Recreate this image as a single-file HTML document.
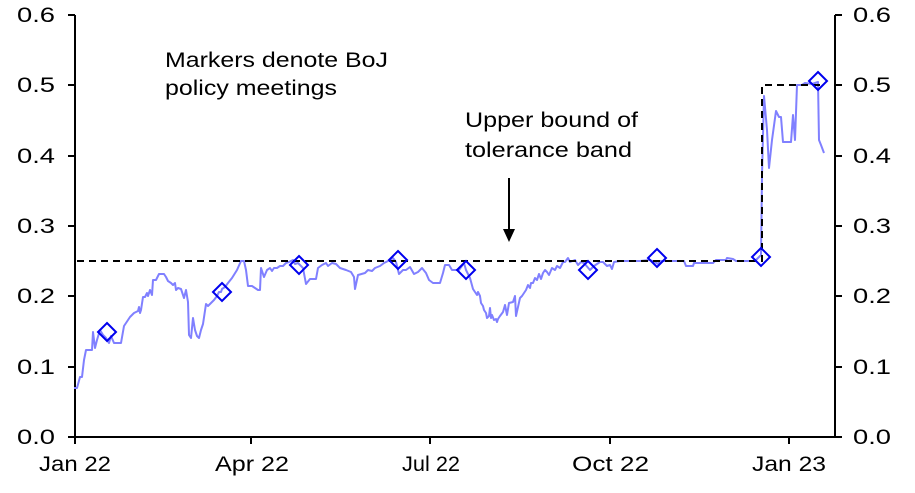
<!DOCTYPE html>
<html><head><meta charset="utf-8"><style>body{margin:0;background:#fff}svg{display:block}text{font-family:"Liberation Sans",Arial,sans-serif;font-size:21px;fill:#000}</style></head><body>
<svg width="915" height="493" viewBox="0 0 915 493">
<g stroke="#000" stroke-width="2">
<line x1="75" y1="15" x2="75" y2="438"/>
<line x1="835" y1="15" x2="835" y2="438"/>
<line x1="74" y1="437" x2="836" y2="437"/>
<line x1="68" y1="437" x2="75" y2="437"/><line x1="68" y1="367" x2="75" y2="367"/><line x1="68" y1="296" x2="75" y2="296"/><line x1="68" y1="226" x2="75" y2="226"/><line x1="68" y1="156" x2="75" y2="156"/><line x1="68" y1="85" x2="75" y2="85"/><line x1="68" y1="15" x2="75" y2="15"/>
<line x1="835" y1="437" x2="842" y2="437"/><line x1="835" y1="367" x2="842" y2="367"/><line x1="835" y1="296" x2="842" y2="296"/><line x1="835" y1="226" x2="842" y2="226"/><line x1="835" y1="156" x2="842" y2="156"/><line x1="835" y1="85" x2="842" y2="85"/><line x1="835" y1="15" x2="842" y2="15"/>
<line x1="75" y1="437" x2="75" y2="444"/><line x1="251" y1="437" x2="251" y2="444"/><line x1="430" y1="437" x2="430" y2="444"/><line x1="610" y1="437" x2="610" y2="444"/><line x1="789" y1="437" x2="789" y2="444"/>
</g>
<g>
<text x="17" y="444" textLength="38" lengthAdjust="spacingAndGlyphs">0.0</text><text x="17" y="374" textLength="38" lengthAdjust="spacingAndGlyphs">0.1</text><text x="17" y="303" textLength="38" lengthAdjust="spacingAndGlyphs">0.2</text><text x="17" y="233" textLength="38" lengthAdjust="spacingAndGlyphs">0.3</text><text x="17" y="163" textLength="38" lengthAdjust="spacingAndGlyphs">0.4</text><text x="17" y="92" textLength="38" lengthAdjust="spacingAndGlyphs">0.5</text><text x="17" y="22" textLength="38" lengthAdjust="spacingAndGlyphs">0.6</text>
<text x="853" y="444" textLength="38" lengthAdjust="spacingAndGlyphs">0.0</text><text x="853" y="374" textLength="38" lengthAdjust="spacingAndGlyphs">0.1</text><text x="853" y="303" textLength="38" lengthAdjust="spacingAndGlyphs">0.2</text><text x="853" y="233" textLength="38" lengthAdjust="spacingAndGlyphs">0.3</text><text x="853" y="163" textLength="38" lengthAdjust="spacingAndGlyphs">0.4</text><text x="853" y="92" textLength="38" lengthAdjust="spacingAndGlyphs">0.5</text><text x="853" y="22" textLength="38" lengthAdjust="spacingAndGlyphs">0.6</text>
<text x="39" y="471" textLength="72" lengthAdjust="spacingAndGlyphs">Jan 22</text><text x="215" y="471" textLength="74" lengthAdjust="spacingAndGlyphs">Apr 22</text><text x="402" y="471" textLength="58" lengthAdjust="spacingAndGlyphs">Jul 22</text><text x="572" y="471" textLength="77" lengthAdjust="spacingAndGlyphs">Oct 22</text><text x="752" y="471" textLength="74" lengthAdjust="spacingAndGlyphs">Jan 23</text>
<text x="165" y="67" textLength="223" lengthAdjust="spacingAndGlyphs">Markers denote BoJ</text>
<text x="165" y="95" textLength="172" lengthAdjust="spacingAndGlyphs">policy meetings</text>
<text x="465" y="127" textLength="173" lengthAdjust="spacingAndGlyphs">Upper bound of</text>
<text x="465" y="157" textLength="167" lengthAdjust="spacingAndGlyphs">tolerance band</text>
</g>
<line x1="509" y1="178" x2="509" y2="232" stroke="#000" stroke-width="2"/>
<polygon points="503,229 515,229 509,242" fill="#000"/>
<polyline fill="none" stroke="#8080ff" stroke-width="2" stroke-linejoin="round" points="74,388 77,388 80,377 82,377 84,360 86,350 92,350 93,332 95,348 97,340 100,330 103,335 106,338 109,343 111,336 114,343 121,343 124,326 130,317 134,313 136,312 138,311 139,307 140,313 141,310 143,297 145,297 147,293 148,296 150,290 152,295 153,280 156,280 159,274 161,274 164,274 166,277 168,281 171,283 173,285 175,283 176,290 178,288 181,289 182,292 184,298 186,290 188,302 189,335 191,338 193,318 195,330 197,336 199,338 201,330 203,324 206,304 208,306 212,302 214,300 217,296 219,292 221,292 222,289 225,287 228,283 232,278 237,270 241,261 244,261 246,270 248,286 252,286 255,288 258,290 260,290 261,268 264,277 267,270 270,268 272,271 274,268 277,268 280,266 283,266 286,263 289,262 293,260 295,264 298,263 303,268 306,284 310,279 316,279 318,268 322,265 326,263 328,266 332,263 336,264 340,268 346,270 351,272 354,277 355,289 358,275 365,273 368,270 372,271 375,268 380,266 384,263 388,261 393,258 396,262 399,274 403,270 406,270 410,267 414,274 418,272 422,268 426,273 429,280 433,283 437,283 440,283 443,273 445,265 449,265 452,270 455,270 459,270 464,263 466,270 468,274 470,278 473,289 475,292 477,295 478,292 480,296 481,303 483,306 484,310 486,313 487,318 489,316 490,308 491,318 492,315 494,320 496,319 497,322 498,319 500,316 503,312 505,305 507,315 509,303 513,302 515,296 516,316 518,307 520,298 522,296 524,293 526,290 528,285 530,288 531,283 533,283 535,278 537,280 539,274 541,279 543,273 545,270 547,272 549,275 552,268 555,270 557,266 560,268 563,262 565,262 568,258 570,262 575,260 578,265 581,262 584,263 590,270 594,266 600,262 603,262 607,266 610,265 612,269 614,262 620,261 640,261 650,260 655,262 658,264 660,261 684,261 686,266 693,266 694,263 713,263 716,260 726,260 727,258 733,259 736,261 755,261 758,258 761,255 762,175 764,96 767,130 769,168 772,140 776,111 779,117 781,117 783,142 791,142 793,115 795,140 797,85 802,85 805,83 812,84 818,82 819,140 821,145 824,153"/>
<polyline fill="none" stroke="#000" stroke-width="2" stroke-dasharray="7,5" points="77,261 762,261 762,85 822,85"/>
<g fill="none" stroke="#0000ee" stroke-width="2">
<polygon points="107,323 116,332 107,341 98,332"/>
<polygon points="222,283 231,292 222,301 213,292"/>
<polygon points="299,256 308,265 299,274 290,265"/>
<polygon points="398,251 407,260 398,269 389,260"/>
<polygon points="466,261 475,270 466,279 457,270"/>
<polygon points="588,261 597,270 588,279 579,270"/>
<polygon points="657,249 666,258 657,267 648,258"/>
<polygon points="761,248 770,257 761,266 752,257"/>
<polygon points="818,72 827,81 818,90 809,81"/>
</g>
</svg>
</body></html>
